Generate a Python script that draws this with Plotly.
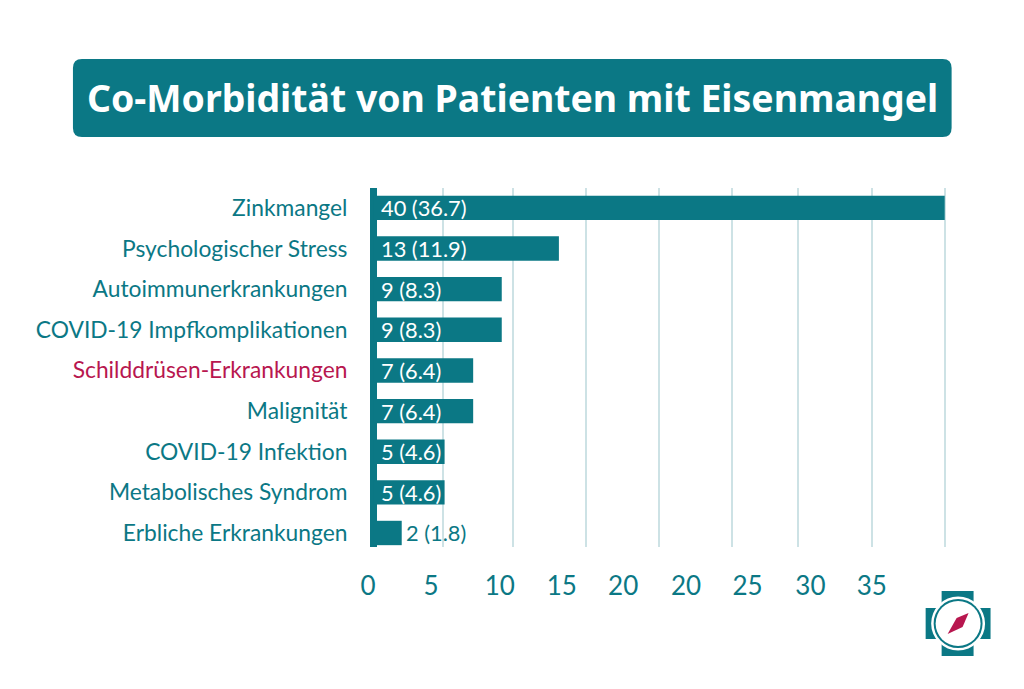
import plotly.graph_objects as go

TEAL = "#0b7885"
RED = "#b8174f"
GRID = "#cde2e5"
FONT = "Lato"
TITLE_FONT = "Noto Sans"

title = "Co-Morbidität von Patienten mit Eisenmangel"
categories = ["Zinkmangel", "Psychologischer Stress", "Autoimmunerkrankungen",
              "COVID-19 Impfkomplikationen", "Schilddrüsen-Erkrankungen", "Malignität",
              "COVID-19 Infektion", "Metabolisches Syndrom", "Erbliche Erkrankungen"]
counts = [40, 13, 9, 9, 7, 7, 5, 5, 2]
percents = [36.7, 11.9, 8.3, 8.3, 6.4, 6.4, 4.6, 4.6, 1.8]
highlighted = "Schilddrüsen-Erkrankungen"
grid_values = [4.9, 9.8, 14.9, 20, 25.1, 29.7, 34.9, 40]
tick_positions = [-0.35, 4.05, 8.86, 13.2, 17.5, 21.9, 26.2, 30.6, 34.9]
tick_labels = ["0", "5", "10", "15", "20", "20", "25", "30", "35"]

W, H = 1024, 689
L, R, T, B = 365.5, 959.4, 188, 547


def px(x):
    return (x - L) / (R - L)


def py(y):
    return (B - y) / (B - T)


def rect(x0, y0, x1, y1, color):
    return dict(type="rect", xref="paper", yref="paper", x0=px(x0), x1=px(x1),
                y0=py(y0), y1=py(y1), fillcolor=color, line_width=0, layer="above")


def circle(cx, cy, r, color):
    return rect(cx - r, cy - r, cx + r, cy + r, color) | dict(type="circle")


def poly(points, color):
    d = "M " + " L ".join(f"{px(x):.5f},{py(y):.5f}" for x, y in points) + " Z"
    return dict(type="path", xref="paper", yref="paper", path=d, fillcolor=color,
                line_width=0, layer="above")


def rounded(x0, y0, x1, y1, r, color):
    pts = (f"M {px(x0 + r):.5f},{py(y0):.5f} L {px(x1 - r):.5f},{py(y0):.5f} "
           f"Q {px(x1):.5f},{py(y0):.5f} {px(x1):.5f},{py(y0 + r):.5f} "
           f"L {px(x1):.5f},{py(y1 - r):.5f} Q {px(x1):.5f},{py(y1):.5f} {px(x1 - r):.5f},{py(y1):.5f} "
           f"L {px(x0 + r):.5f},{py(y1):.5f} Q {px(x0):.5f},{py(y1):.5f} {px(x0):.5f},{py(y1 - r):.5f} "
           f"L {px(x0):.5f},{py(y0 + r):.5f} Q {px(x0):.5f},{py(y0):.5f} {px(x0 + r):.5f},{py(y0):.5f} Z")
    return dict(type="path", xref="paper", yref="paper", path=pts, fillcolor=color,
                line_width=0, layer="below")


cat_text = [f'<span style="color:{RED}">{c}</span>' if c == highlighted else c for c in categories]

value_notes = []
for cat, c, p in zip(categories, counts, percents):
    inside = c > 2
    value_notes.append(dict(x=0 if inside else c, y=cat, xref="x", yref="y", text=f"{c} ({p})", showarrow=False,
                            xanchor="left", yanchor="middle", xshift=6 if inside else 2, yshift=0,
                            font=dict(family=FONT, size=21.8, color="white" if inside else TEAL)))

fig = go.Figure()
fig.add_bar(y=categories, x=counts, orientation="h", width=0.6, marker=dict(color=TEAL, line_width=0),
            hoverinfo="skip", showlegend=False)
fig.add_scatter(x=tick_positions, y=[categories[0]] * len(tick_positions), xaxis="x2", mode="markers",
                marker=dict(opacity=0), hoverinfo="skip", showlegend=False)

fig.update_layout(
    width=W, height=H, autosize=False, paper_bgcolor="white", plot_bgcolor="white",
    margin=dict(l=L, r=W - R, t=T, b=H - B, pad=0),
    font=dict(family=FONT, color=TEAL),
    xaxis=dict(range=[-0.5, 41], tickmode="array", tickvals=grid_values, showticklabels=False, ticks="",
               showgrid=True, gridcolor=GRID, gridwidth=2, zeroline=True, zerolinecolor=TEAL,
               zerolinewidth=6.5, showline=False),
    xaxis2=dict(range=[-0.5, 41], overlaying="x", side="bottom", anchor="y", tickmode="array",
                tickvals=tick_positions, ticktext=tick_labels, showgrid=False, zeroline=False,
                ticks="outside", ticklen=16, tickcolor="rgba(0,0,0,0)", tickfont=dict(family=FONT, size=26, color=TEAL)),
    yaxis=dict(categoryorder="array", categoryarray=categories, range=[8.345, -0.49], tickmode="array",
               tickvals=categories, ticktext=cat_text, showgrid=False, zeroline=False, showline=False,
               ticks="outside", ticklen=13, tickcolor="rgba(0,0,0,0)", tickfont=dict(family=FONT, size=22.8, color=TEAL)),
    shapes=[
        rounded(72, 59, 952, 137, 9, TEAL),
        rect(942, 591, 974, 656, TEAL),
        rect(926, 608, 991, 639, TEAL),
        circle(958.5, 623.5, 27, "white"),
        circle(958.5, 623.5, 24.5, TEAL),
        circle(958.5, 623.5, 22.5, "white"),
        poly([(969, 613), (957, 618), (948, 634), (963, 627)], RED),
    ],
    annotations=[dict(xref="paper", yref="paper", x=px(512), y=py(97), text=f"<b>{title}</b>", showarrow=False,
                      xanchor="center", yanchor="middle", font=dict(family=TITLE_FONT, size=37.4, color="white"))]
                + value_notes,
)

fig.write_html("out.html", post_script="document.body.style.margin='0';",
               config=dict(displayModeBar=False))
